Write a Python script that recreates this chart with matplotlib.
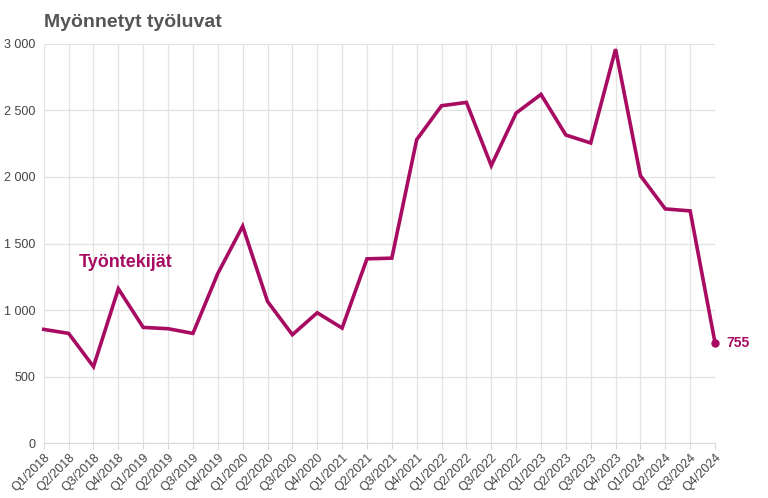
import matplotlib.pyplot as plt
from matplotlib.ticker import FuncFormatter

plt.rcParams['font.family'] = ['Liberation Sans', 'DejaVu Sans']

quarters = [f"Q{q}/{y}" for y in range(2018, 2025) for q in range(1, 5)]
tyontekijat = [855, 825, 575, 1160, 870, 860, 825, 1275, 1630, 1065, 815, 980,
               865, 1385, 1390, 2280, 2535, 2560, 2085, 2480, 2620, 2315, 2255, 2960,
               2010, 1760, 1745, 755]

line_color = '#A80C62'
text_gray = '#555555'

fig = plt.figure(figsize=(7.68, 4.98), dpi=100)
ax = fig.add_axes([0.057, 0.11, 0.874, 0.802])

x = list(range(len(quarters)))
ax.plot(x, tyontekijat, color=line_color, linewidth=2.6, solid_joinstyle='miter',
        clip_on=False)
ax.plot(x[-1], tyontekijat[-1], 'o', color=line_color, markersize=5, clip_on=False)
ax.text(x[-1] + 0.45, tyontekijat[-1], f"{tyontekijat[-1]}", color=line_color,
        fontsize=10, fontweight='bold', va='center', ha='left')
ax.text(1.4, 1360, "Työntekijät", color=line_color, fontsize=13,
        fontweight='bold', va='center', ha='left')

ax.set_xlim(0, len(quarters) - 1)
ax.set_ylim(0, 3000)
ax.set_yticks(range(0, 3001, 500))
ax.yaxis.set_major_formatter(FuncFormatter(lambda v, p: f"{int(v):,}".replace(',', ' ')))
ax.set_xticks(x)
ax.set_xticklabels(quarters, rotation=45, ha='right', rotation_mode='anchor')

ax.grid(True, color='#e3e3e3', linewidth=0.9)
ax.set_axisbelow(True)
for side in ['top', 'right', 'left']:
    ax.spines[side].set_visible(False)
ax.spines['bottom'].set_color('#d9d9d9')
ax.tick_params(axis='y', length=0, labelsize=9, labelcolor='#444444', pad=6)
ax.tick_params(axis='x', length=4, color='#d9d9d9', labelsize=9, labelcolor='#444444', pad=2)

fig.text(0.057, 0.955, "Myönnetyt työluvat", fontsize=14, fontweight='bold',
         color=text_gray, ha='left', va='center')

fig.savefig('out.png', dpi=100)
